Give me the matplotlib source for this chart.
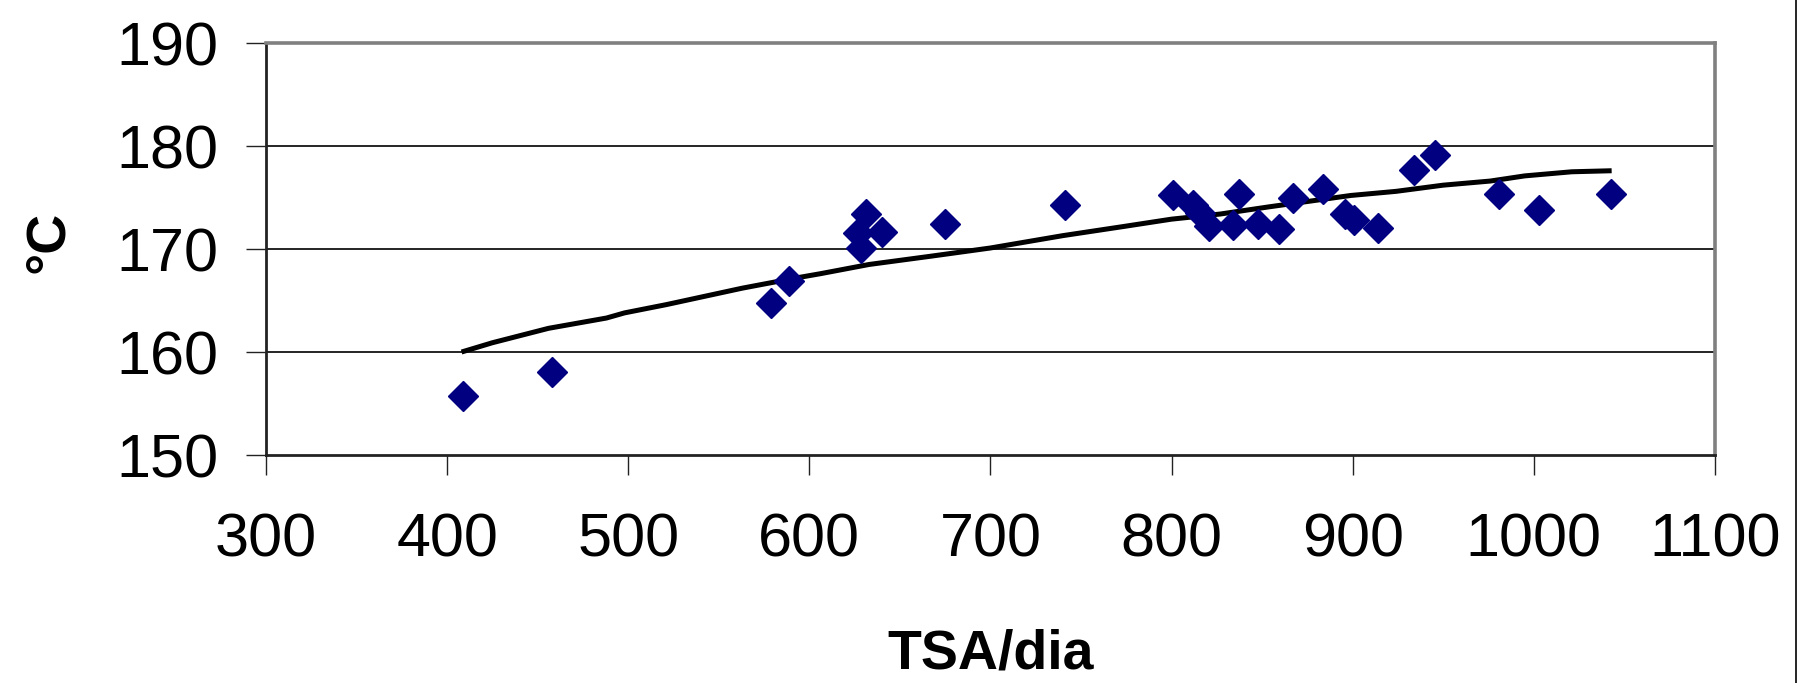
import numpy as np
import matplotlib
matplotlib.use("Agg")
import matplotlib.pyplot as plt
from matplotlib.lines import Line2D

plt.rcParams['font.family'] = ['Liberation Sans', 'DejaVu Sans']

# measured points (TSA/dia vs temperature)
tsa = [409, 458, 579, 589, 627, 628.5, 631.5, 640, 675, 741,
       801, 812, 815.5, 820.5, 834, 837, 848, 859.5, 867, 883.5,
       896, 901, 914, 934, 945.5, 981, 1003, 1042.5]
temp = [155.7, 158.1, 164.8, 166.9, 171.6, 170.1, 173.4, 171.7, 172.4, 174.3,
        175.2, 174.3, 173.5, 172.2, 172.3, 175.3, 172.4, 171.9, 175.0, 175.8,
        173.4, 172.8, 172.0, 177.7, 179.1, 175.3, 173.8, 175.3]

# trend line
trend_x = [408, 425, 456, 488, 498, 521, 563, 593, 606, 633, 667, 700,
           740, 774, 800, 827, 854, 899, 924, 950, 976, 995, 1021, 1043]
trend_y = [160.0, 160.9, 162.3, 163.3, 163.8, 164.6, 166.2, 167.2, 167.6, 168.5,
           169.3, 170.1, 171.3, 172.2, 172.9, 173.4, 174.1, 175.2, 175.6, 176.2,
           176.6, 177.1, 177.5, 177.6]

x_ticks = [300, 400, 500, 600, 700, 800, 900, 1000, 1100]
y_ticks = [150, 160, 170, 180, 190]


def main():
    fig = plt.figure(figsize=(17.97, 6.83), dpi=100)
    ax = fig.add_axes([0.1480, 0.3338, 0.8063, 0.6032])

    ax.set_xlim(300, 1100)
    ax.set_ylim(150, 190)
    ax.set_xticks(x_ticks)
    ax.set_yticks(y_ticks)

    # horizontal gridlines
    for yv in y_ticks[1:-1]:
        ax.axhline(yv, color='black', lw=1.2, zorder=1)

    ax.plot(trend_x, trend_y, color='black', lw=3.6, zorder=2,
            solid_capstyle='butt')
    ax.plot(tsa, temp, linestyle='none', marker='D', markersize=15,
            color='#000080', markeredgecolor='#000080', zorder=3)

    # frame: dark left/bottom axes, gray plot-area border
    ax.spines['left'].set_color('#222222')
    ax.spines['bottom'].set_color('#222222')
    ax.spines['left'].set_linewidth(2.0)
    ax.spines['bottom'].set_linewidth(2.0)
    ax.spines['top'].set_color('#808080')
    ax.spines['right'].set_color('#808080')
    ax.spines['top'].set_linewidth(2.6)
    ax.spines['right'].set_linewidth(2.6)

    ax.tick_params(axis='both', direction='out', length=14.5, width=1.0,
                   color='#222222', labelsize=44)
    ax.tick_params(axis='x', pad=27)
    ax.tick_params(axis='y', pad=20)

    fig.text(0.5513, 0.003, 'TSA/dia', ha='center', va='bottom',
             fontsize=40, fontweight='bold')
    fig.text(0.0271, 0.6457, '°C', ha='center', va='center', rotation=90,
             fontsize=40, fontweight='bold')

    # thin border line at the right edge of the picture
    fig.add_artist(Line2D([0.9992, 0.9992], [0, 1], transform=fig.transFigure,
                          color='black', lw=1.2))

    fig.savefig('out.png', dpi=100, facecolor='white')


if __name__ == "__main__":
    main()
